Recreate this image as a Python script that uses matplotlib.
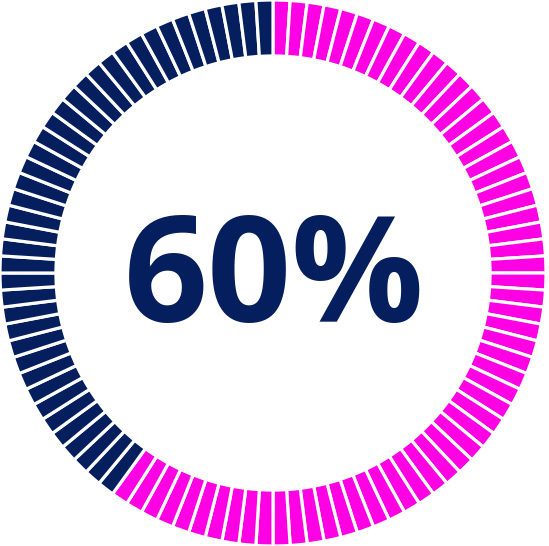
import matplotlib
matplotlib.use('Agg')
import matplotlib.pyplot as plt

# gauge data
total_segments = 100
filled_segments = 60
label = '60%'

seg_values = [1] * total_segments
navy = '#041E5E'
magenta = '#FF00E4'
seg_colors = [magenta] * filled_segments + [navy] * (total_segments - filled_segments)

fig = plt.figure(figsize=(5.49, 5.46), dpi=100)
ax = fig.add_axes([0, 0, 546 / 549, 1])

ax.pie(seg_values, colors=seg_colors, startangle=90, counterclock=False,
       radius=1.0,
       wedgeprops=dict(width=0.205, edgecolor='white', linewidth=2.3))

# baseline placed ~50px below the centre
ax.text(0.005, -0.181, label, ha='center', va='baseline', fontsize=106,
        fontweight='bold', family=['Open Sans', 'DejaVu Sans'], color=navy)

ax.set_xlim(-1.0, 1.0)
ax.set_ylim(-1.0, 1.0)
ax.set_aspect('equal')
ax.axis('off')

fig.savefig('out.png', dpi=100, facecolor='white')
